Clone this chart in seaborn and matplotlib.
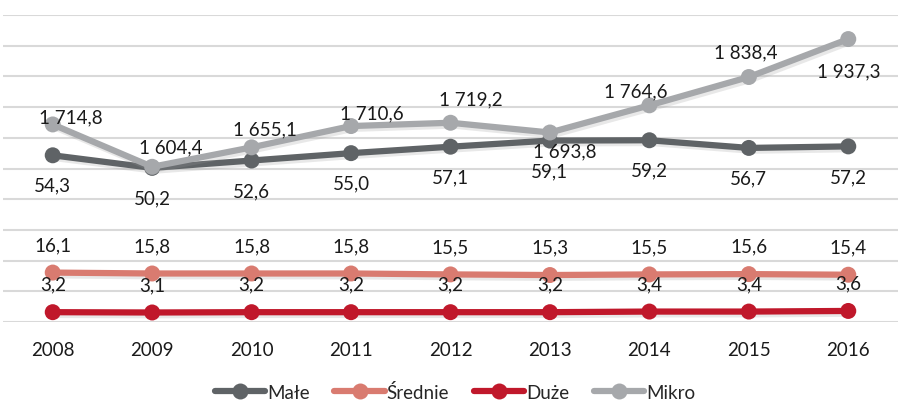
import numpy as np
import pandas as pd
import matplotlib.pyplot as plt
import matplotlib.patheffects as pe
from matplotlib.lines import Line2D
import seaborn as sns

years = ['2008', '2009', '2010', '2011', '2012', '2013', '2014', '2015', '2016']
male = [54.3, 50.2, 52.6, 55.0, 57.1, 59.1, 59.2, 56.7, 57.2]
srednie = [16.1, 15.8, 15.8, 15.8, 15.5, 15.3, 15.5, 15.6, 15.4]
duze = [3.2, 3.1, 3.2, 3.2, 3.2, 3.2, 3.4, 3.4, 3.6]
mikro = [1714.8, 1604.4, 1655.1, 1710.6, 1719.2, 1693.8, 1764.6, 1838.4, 1937.3]

# label offsets for Mikro (pixels)
mikro_off = [(18, 8), (19, 20), (13, 18), (21, 13), (20, 24), (15, -18), (-14, 14), (-3, 25), (0, -32)]

colors = {'Małe': '#5f6366', 'Średnie': '#d97b70', 'Duże': '#c0182b', 'Mikro': '#a6a8ab'}

sns.set_theme(style='white')
plt.rcParams['font.family'] = ['Lato', 'DejaVu Sans']

def fmt(v):
    s = f"{v:,.1f}".replace(',', ' ').replace('.', ',')
    return s

fig = plt.figure(figsize=(9.02, 4.06), dpi=100)
ax = fig.add_axes([3 / 902, 83 / 406, 895 / 902, 307 / 406])
ax2 = ax.twinx()

x = np.arange(len(years))
shadow = [pe.SimpleLineShadow(offset=(1.5, -2), shadow_color='#999999', alpha=0.22), pe.Normal()]

df = pd.DataFrame({'x': x, 'Małe': male, 'Średnie': srednie, 'Duże': duze, 'Mikro': mikro})

for name in ['Duże', 'Średnie', 'Małe']:
    sns.lineplot(data=df, x='x', y=name, ax=ax, color=colors[name], linewidth=4.5,
                 marker='o', markersize=11.5, markeredgewidth=0, path_effects=shadow)
sns.lineplot(data=df, x='x', y='Mikro', ax=ax2, color=colors['Mikro'], linewidth=4.5,
             marker='o', markersize=11.5, markeredgewidth=0, path_effects=shadow)

ax.set_ylim(0, 100)
ax.set_yticks(np.arange(0, 101, 10))
ax.set_xlim(-0.5, len(years) - 0.5)
ax2.set_ylim(1200, 2000)
ax.grid(axis='y', color='#d9d9d9', linewidth=1.5)
ax.set_axisbelow(True)
ax.set_xticks(x)
ax.set_xticklabels(years, fontsize=13.5, color='#1a1a1a')
ax.tick_params(axis='x', length=0, pad=14)
ax.tick_params(axis='y', length=0, labelleft=False)
ax2.tick_params(axis='y', length=0, labelright=False)
ax.set_xlabel('')
ax.set_ylabel('')
ax2.set_ylabel('')
for a in (ax, ax2):
    for s in a.spines.values():
        s.set_visible(False)
    a.set_zorder(1)
ax2.set_zorder(2)

tkw = dict(textcoords='offset pixels', ha='center', va='center', fontsize=13.5, color='#1a1a1a')
for i in x:
    ax.annotate(fmt(male[i]), (i, male[i]), xytext=(0, -30), **tkw)
    ax.annotate(fmt(srednie[i]), (i, srednie[i]), xytext=(0, 28), **tkw)
    ax.annotate(fmt(duze[i]), (i, duze[i]), xytext=(0, 28), **tkw)
    ax2.annotate(fmt(mikro[i]), (i, mikro[i]), xytext=mikro_off[i], **tkw)

handles = [Line2D([0], [0], color=colors[n], linewidth=4.5, marker='o', markersize=11.5,
                  markeredgewidth=0) for n in ['Małe', 'Średnie', 'Duże', 'Mikro']]
fig.legend(handles, ['Małe', 'Średnie', 'Duże', 'Mikro'], loc='center', ncol=4,
           bbox_to_anchor=(455 / 902, 13 / 406), frameon=False, fontsize=13.5,
           handlelength=2.7, handletextpad=0.1, columnspacing=1.3)

fig.savefig('out.png', dpi=100)
